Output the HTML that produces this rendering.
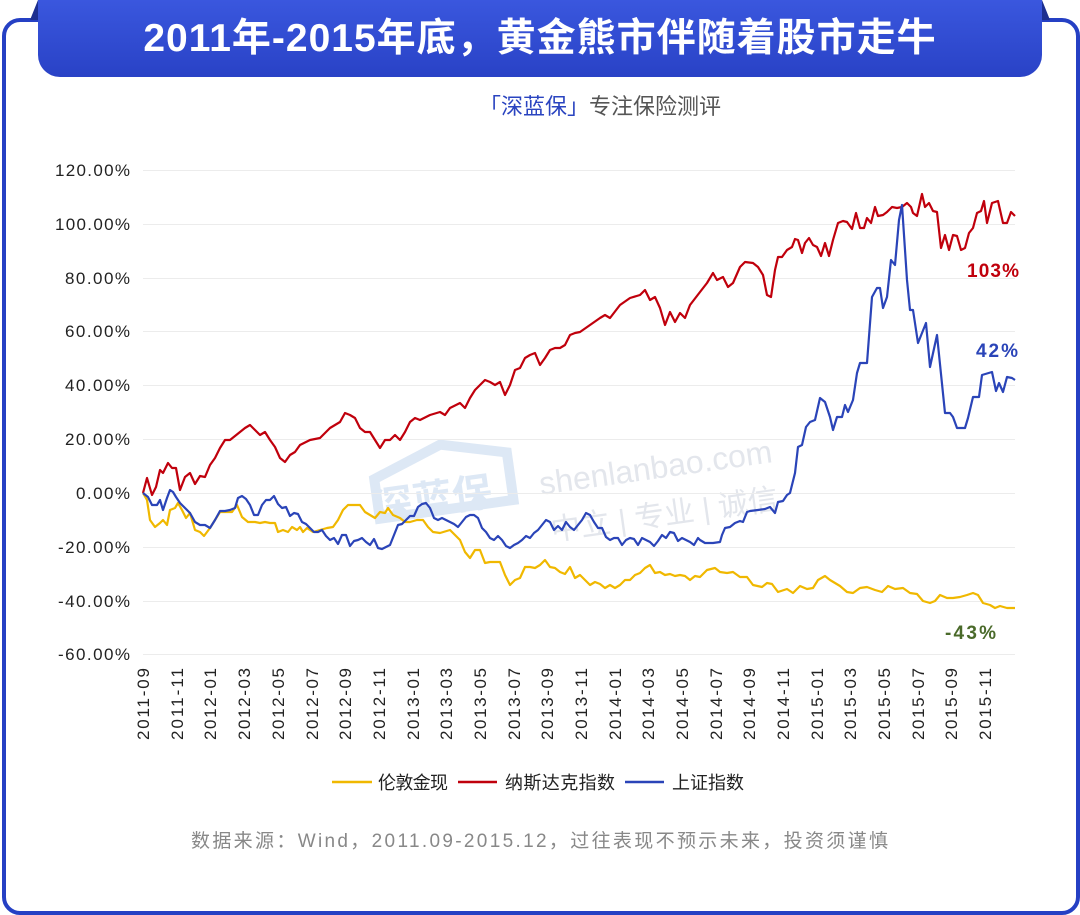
<!DOCTYPE html>
<html><head><meta charset="utf-8"><style>
html,body{margin:0;padding:0;background:#fff;}
body{width:1080px;height:915px;position:relative;overflow:hidden;font-family:"Liberation Sans","Noto Sans CJK SC",sans-serif;}
.frame{position:absolute;left:2px;top:18px;width:1070px;height:889px;border:4px solid #2540c4;border-radius:18px;}
.banner{position:absolute;left:38px;top:0;width:1004px;height:77px;background:linear-gradient(#3a57de,#2942c6);border-radius:0 0 22px 22px;color:#fff;font-weight:bold;font-size:39px;text-align:center;line-height:78px;letter-spacing:1px;}
.sub{position:absolute;left:0;width:1200px;top:89px;text-align:center;font-size:22px;color:#555;}
</style></head><body>
<div class="frame"></div>
<div style="position:absolute;left:30px;top:0;width:0;height:0;border-left:8px solid transparent;border-bottom:20px solid #1d2f90"></div>
<div style="position:absolute;left:1042px;top:0;width:0;height:0;border-right:8px solid transparent;border-bottom:20px solid #1d2f90"></div>
<div class="banner">2011年-2015年底，黄金熊市伴随着股市走牛</div>
<div class="sub"><span style="color:#2a44c0">「深蓝保」</span>专注保险测评</div>
<svg width="1080" height="915" style="position:absolute;left:0;top:0" font-family="Liberation Sans, Noto Sans CJK SC, sans-serif">
<g transform="rotate(-8 660 480)" fill="#e3e6ec" font-size="32">
<text x="540" y="478">shenlanbao.com</text>
<text x="545" y="525" font-size="30">中立 | 专业 | 诚信</text>
</g>
<g transform="rotate(-8 440 480)"><path d="M375 470 L445 445 L510 462 L510 510 L375 510 Z" fill="none" stroke="#dde8f5" stroke-width="10"/>
<text x="370" y="512" font-size="40" font-weight="bold" fill="#dde8f5">深蓝保</text></g>
<g stroke="#ececec" stroke-width="1">
<line x1="143" y1="170.5" x2="1015" y2="170.5"/><line x1="143" y1="224.5" x2="1015" y2="224.5"/><line x1="143" y1="278.5" x2="1015" y2="278.5"/><line x1="143" y1="331.5" x2="1015" y2="331.5"/><line x1="143" y1="385.5" x2="1015" y2="385.5"/><line x1="143" y1="439.5" x2="1015" y2="439.5"/><line x1="143" y1="493.5" x2="1015" y2="493.5"/><line x1="143" y1="547.5" x2="1015" y2="547.5"/><line x1="143" y1="601.5" x2="1015" y2="601.5"/><line x1="143" y1="654.5" x2="1015" y2="654.5"/>
</g>
<g font-size="17" fill="#222" text-anchor="end">
<text x="130" y="176" textLength="75">120.00%</text><text x="130" y="230" textLength="75">100.00%</text><text x="130" y="284" textLength="65">80.00%</text><text x="130" y="337" textLength="65">60.00%</text><text x="130" y="391" textLength="65">40.00%</text><text x="130" y="445" textLength="65">20.00%</text><text x="130" y="499" textLength="54">0.00%</text><text x="130" y="553" textLength="72">-20.00%</text><text x="130" y="607" textLength="72">-40.00%</text><text x="130" y="660" textLength="72">-60.00%</text>
</g>
<g font-size="17" fill="#222" text-anchor="end">
<text transform="translate(149,668) rotate(-90)" textLength="72">2011-09</text>
<text transform="translate(183,668) rotate(-90)" textLength="72">2011-11</text>
<text transform="translate(216,668) rotate(-90)" textLength="72">2012-01</text>
<text transform="translate(250,668) rotate(-90)" textLength="72">2012-03</text>
<text transform="translate(284,668) rotate(-90)" textLength="72">2012-05</text>
<text transform="translate(318,668) rotate(-90)" textLength="72">2012-07</text>
<text transform="translate(351,668) rotate(-90)" textLength="72">2012-09</text>
<text transform="translate(385,668) rotate(-90)" textLength="72">2012-11</text>
<text transform="translate(419,668) rotate(-90)" textLength="72">2013-01</text>
<text transform="translate(452,668) rotate(-90)" textLength="72">2013-03</text>
<text transform="translate(486,668) rotate(-90)" textLength="72">2013-05</text>
<text transform="translate(520,668) rotate(-90)" textLength="72">2013-07</text>
<text transform="translate(553,668) rotate(-90)" textLength="72">2013-09</text>
<text transform="translate(587,668) rotate(-90)" textLength="72">2013-11</text>
<text transform="translate(621,668) rotate(-90)" textLength="72">2014-01</text>
<text transform="translate(654,668) rotate(-90)" textLength="72">2014-03</text>
<text transform="translate(688,668) rotate(-90)" textLength="72">2014-05</text>
<text transform="translate(722,668) rotate(-90)" textLength="72">2014-07</text>
<text transform="translate(755,668) rotate(-90)" textLength="72">2014-09</text>
<text transform="translate(789,668) rotate(-90)" textLength="72">2014-11</text>
<text transform="translate(823,668) rotate(-90)" textLength="72">2015-01</text>
<text transform="translate(856,668) rotate(-90)" textLength="72">2015-03</text>
<text transform="translate(890,668) rotate(-90)" textLength="72">2015-05</text>
<text transform="translate(924,668) rotate(-90)" textLength="72">2015-07</text>
<text transform="translate(957,668) rotate(-90)" textLength="72">2015-09</text>
<text transform="translate(991,668) rotate(-90)" textLength="72">2015-11</text>
</g>
<g fill="none" stroke-width="2.2" stroke-linejoin="round">
<polyline stroke="#f0b800" points="143,493 147,500 150,520 155,527 160,523 163,520 167,525 170,510 175,508 178,503 182,510 186,518 190,513 195,530 200,532 204,536 210,528 215,520 220,512 225,512 232,512 237,505 242,517 248,522 255,522 260,523 265,522 270,523 275,523 278,532 283,530 288,532 292,527 297,530 300,527 303,532 307,528 313,532 320,530 327,528 333,527 338,520 343,510 348,505 355,505 360,505 365,512 370,515 375,518 380,512 385,513 388,508 393,515 400,518 405,522 410,522 417,520 423,520 428,527 433,532 440,533 450,530 455,535 460,540 465,552 470,558 475,550 480,550 485,563 490,562 500,562 505,575 510,585 515,580 520,578 525,567 530,567 535,568 540,565 545,560 550,567 555,568 560,572 565,574 570,567 575,578 580,575 585,580 590,585 595,582 600,584 605,588 610,585 615,588 620,585 625,580 630,580 635,575 640,573 645,568 650,565 655,573 660,572 665,575 670,574 675,576 680,575 685,576 690,580 695,576 700,577 707,570 715,568 720,572 727,573 733,572 740,577 747,577 753,585 762,587 767,583 772,584 778,592 787,589 793,593 800,586 807,589 813,588 818,580 825,576 830,580 835,583 840,586 847,592 853,593 860,588 867,587 875,590 882,592 888,586 895,589 903,588 910,593 917,594 923,601 930,603 935,601 940,595 947,598 953,598 960,597 967,595 973,593 978,595 983,603 990,605 995,608 1000,606 1007,608 1015,608"/>
<polyline stroke="#c0000c" points="143,493 147,478 152,495 156,487 160,470 163,473 168,463 172,468 176,468 180,490 185,477 190,473 195,484 200,476 205,477 210,465 215,458 220,448 225,440 230,440 235,436 240,432 245,428 250,425 255,430 260,435 265,432 270,440 275,447 280,458 285,462 290,455 295,452 300,445 310,440 320,438 330,428 340,422 345,413 350,415 355,418 360,428 365,432 370,432 375,440 380,448 385,440 390,440 395,435 400,440 405,432 410,422 415,418 420,420 430,415 440,412 445,415 450,408 460,403 465,408 470,398 475,390 480,385 485,380 490,382 495,385 500,382 505,395 510,385 515,370 520,368 525,358 530,355 535,353 540,365 545,358 550,350 555,348 560,348 565,345 570,335 575,333 580,332 590,325 600,318 605,315 610,318 620,305 630,298 640,295 645,290 650,300 655,297 660,308 665,325 670,312 675,322 680,313 685,318 690,305 700,292 707,283 713,273 717,280 723,277 728,287 733,283 740,267 745,262 753,263 758,267 763,275 767,295 771,297 775,270 778,257 782,257 787,250 792,247 795,239 798,240 802,253 805,243 809,238 813,245 817,247 821,256 825,243 829,256 833,240 838,223 843,221 847,222 852,229 856,213 860,228 864,228 867,218 871,223 875,207 878,216 883,215 887,212 892,207 897,208 902,207 907,203 911,207 913,213 917,216 922,194 925,207 929,203 933,211 937,212 941,248 945,235 949,250 953,235 957,236 961,250 965,248 969,233 973,228 977,213 981,211 984,201 987,223 992,203 998,201 1003,223 1007,223 1011,212 1015,216"/>
<polyline stroke="#2a44b8" points="143,493 148,497 152,505 157,505 160,500 163,510 167,498 170,490 173,492 176,497 180,503 185,508 190,513 195,522 200,525 205,525 210,528 215,520 220,511 225,511 230,510 235,508 238,498 242,496 246,499 250,505 254,515 258,515 262,505 266,500 270,500 274,496 278,504 282,508 286,507 290,516 294,513 298,514 302,522 306,524 310,528 314,532 318,532 322,530 326,536 330,540 334,538 338,544 342,535 346,535 350,546 354,541 358,540 362,538 366,542 370,545 374,539 378,548 382,549 386,547 390,545 394,535 398,525 402,524 406,520 410,516 414,516 418,507 422,504 426,503 430,508 434,518 438,520 442,518 446,520 450,522 454,524 458,527 462,522 466,517 470,515 474,515 478,518 482,528 486,532 490,538 494,540 498,536 502,540 506,546 510,548 514,545 518,543 522,540 526,536 530,538 534,533 538,530 542,525 546,520 550,522 554,530 558,526 562,530 566,522 570,527 574,530 578,525 582,520 586,513 590,515 594,522 598,528 602,528 606,537 610,540 614,538 618,538 622,545 626,540 630,538 634,539 638,545 642,538 646,540 650,542 654,546 658,541 662,535 666,538 670,532 674,533 678,541 682,538 686,540 690,542 694,545 698,538 700,540 705,543 713,543 720,542 722,535 725,528 730,527 735,523 740,521 743,522 747,512 750,511 758,510 765,509 770,507 775,513 778,502 783,501 787,495 790,493 795,473 798,447 802,445 806,427 810,422 815,420 820,398 825,402 830,417 833,430 837,417 842,417 845,405 848,412 853,400 857,373 860,363 867,363 872,297 877,288 880,288 883,308 887,297 891,260 895,265 899,220 902,205 907,280 910,310 913,310 918,343 926,323 930,367 937,335 945,413 950,413 953,417 957,428 965,428 968,418 973,397 979,397 982,375 992,372 996,391 999,383 1003,392 1007,377 1012,378 1015,380"/>
</g>
<g font-size="19" font-weight="bold">
<text x="967" y="277" fill="#c0000c" textLength="52">103%</text>
<text x="976" y="357" fill="#2a44b8" textLength="42">42%</text>
<text x="945" y="639" fill="#4a6a2a" textLength="51">-43%</text>
</g>
<g font-size="18" fill="#222">
<line x1="332" y1="782" x2="372" y2="782" stroke="#f0b800" stroke-width="2.5"/><text x="378" y="789" textLength="70">伦敦金现</text>
<line x1="458" y1="782" x2="497" y2="782" stroke="#c0000c" stroke-width="2.5"/><text x="505" y="789" textLength="110">纳斯达克指数</text>
<line x1="625" y1="782" x2="664" y2="782" stroke="#2a44b8" stroke-width="2.5"/><text x="672" y="789" textLength="72">上证指数</text>
</g>
<text x="191" y="847" font-size="19" fill="#888" textLength="697">数据来源：Wind，2011.09-2015.12，过往表现不预示未来，投资须谨慎</text>
</svg>
</body></html>
